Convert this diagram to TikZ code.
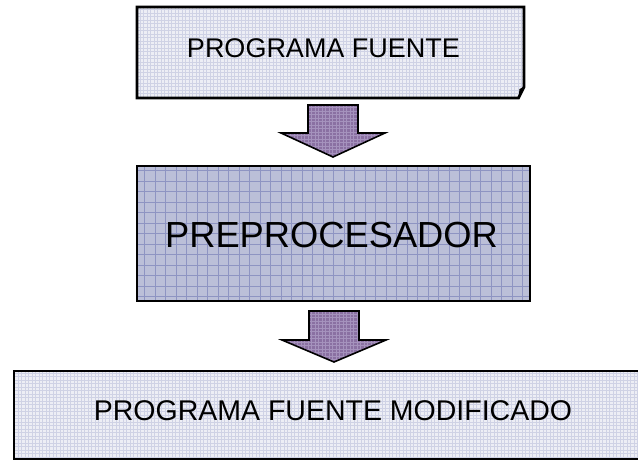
\documentclass[tikz,border=0pt]{standalone}
\usepackage{fontspec}
\setmainfont{Liberation Sans}
\usetikzlibrary{calc}
\definecolor{lightfill}{HTML}{EDEEF5}
\definecolor{lightgrid}{HTML}{CFD2E5}
\definecolor{midfill}{HTML}{BBBFD8}
\definecolor{midgrid}{HTML}{8E94C2}
\definecolor{arrowfill}{HTML}{8A70A2}
\definecolor{arrowgrid}{HTML}{A592BD}
\begin{document}
\begin{tikzpicture}[x=1pt,y=1pt,
  boxshape/.style={rectangle, inner sep=0pt, outer sep=0pt},
  lightpat/.style={fill=lightfill, path picture={\draw[lightgrid, line width=0.45pt, step=3.5pt] (path picture bounding box.south west) grid (path picture bounding box.north east);}},
  midpat/.style={fill=midfill, path picture={\draw[midgrid, line width=0.7pt, step=10.5pt] (path picture bounding box.south west) grid (path picture bounding box.north east);}},
  arrowpat/.style={fill=arrowfill, draw=black, line width=1.6pt, line join=miter, path picture={\draw[arrowgrid, line width=0.4pt, step=3.5pt] (path picture bounding box.south west) grid (path picture bounding box.north east);}},
  lbl/.style={inner sep=0pt, anchor=base, text=black}
]
\clip (0,0) rectangle (638,461);
% top box (folded corner)
\node[boxshape, minimum width=387pt, minimum height=91pt] (top) at (330.5,408.5) {};
\path[lightpat, draw=black, line width=2.7pt, line join=miter]
  (top.north west) -- (top.north east) -- ($(top.south east)+(0,11)$)
  -- ($(top.south east)+(-5.5,0)$) -- (top.south west) -- cycle;
\fill[black] ($(top.south east)+(0,11)$) -- ($(top.south east)+(-5.5,0)$) -- ($(top.south east)+(-4.5,9)$) -- cycle;
\node[lbl, font=\fontsize{27pt}{32pt}\selectfont] (toptext) at (323.5,403.3) {PROGRAMA FUENTE};
% middle box
\node[boxshape, midpat, draw=black, line width=2.6pt, minimum width=393pt, minimum height=135pt] (mid) at (333.5,227.5) {};
\node[lbl, font=\fontsize{36.3pt}{42pt}\selectfont] (midtext) at (331.5,213.3) {PREPROCESADOR};
% bottom box
\node[boxshape, lightpat, draw=black, line width=2.2pt, minimum width=638pt, minimum height=88pt] (bot) at (333,46) {};
\node[lbl, font=\fontsize{28.5pt}{34pt}\selectfont] (bottext) at (333,40.3) {PROGRAMA FUENTE MODIFICADO};
% arrows
\coordinate (a1s) at ($(top.south)+(2.5,-7)$);
\coordinate (a1e) at ($(mid.north)+(-0.5,9)$);
\coordinate (a2s) at ($(mid.south)+(0.5,-10)$);
\coordinate (a2e) at ($(bot.north)+(1,9)$);
\path[arrowpat] ($(a1s)+(-25,0)$) -- ($(a1s)+(25,0)$) -- ($(a1s)+(25,-28)$) -- ($(a1s)+(52,-28)$)
  -- (a1e) -- ($(a1s)+(-52,-28)$) -- ($(a1s)+(-25,-28)$) -- cycle;
\path[arrowpat] ($(a2s)+(-25,0)$) -- ($(a2s)+(25,0)$) -- ($(a2s)+(25,-29)$) -- ($(a2s)+(52,-29)$)
  -- (a2e) -- ($(a2s)+(-52,-29)$) -- ($(a2s)+(-25,-29)$) -- cycle;
\end{tikzpicture}
\end{document}
